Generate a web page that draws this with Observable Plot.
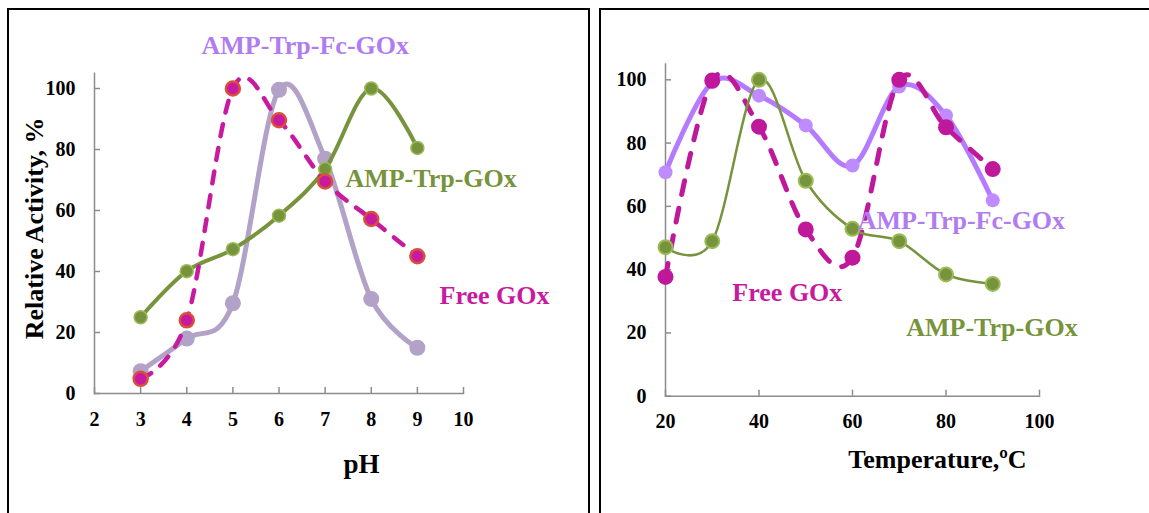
<!DOCTYPE html>
<html>
<head>
<meta charset="utf-8">
<script src="https://cdn.jsdelivr.net/npm/d3@7"></script>
<script src="https://cdn.jsdelivr.net/npm/@observablehq/plot@0.6"></script>
<style>
html, body { margin: 0; padding: 0; background: #fff; width: 1149px; height: 513px; overflow: hidden; }
#page { position: relative; width: 1149px; height: 513px; overflow: hidden; }
.box { position: absolute; border: 2px solid #000; box-sizing: border-box; }
#boxL { left: 7px; top: 8px; width: 583px; height: 600px; }
#boxR { left: 599px; top: 8px; width: 620px; height: 600px; }
#left, #right { position: absolute; top: 0; }
#left { left: 0; }
#right { left: 600px; }
#page svg { max-width: none; }
</style>
</head>
<body>
<div id="page">
  <div class="box" id="boxL"></div>
  <div class="box" id="boxR"></div>
  <div id="left"></div>
  <div id="right"></div>
</div>
<script>
// ---- Data ----
const pH = [3, 4, 5, 6, 7, 8, 9];
const phFree = [4.8, 24, 100, 89.6, 69.5, 57.2, 45];
const phFc = [7.3, 18, 29.6, 99.6, 77, 31, 15];
const phTrp = [25, 40.1, 47.3, 58.3, 73.6, 100, 80.5];

const temps = [20, 30, 40, 50, 60, 70, 80, 90];
const tFree = [37.7, 99.8, 85.2, 52.7, 43.8, 100, 85, 71.8];
const tFc = [70.8, 99.2, 95, 85.6, 72.9, 97.9, 88.7, 61.9];
const tTrp = [47.1, 49, 100, 68.1, 52.9, 49, 38.5, 35.5];

const phTicks = [2, 3, 4, 5, 6, 7, 8, 9, 10];
const tempTicks = [20, 40, 60, 80, 100];
const activityTicks = [0, 20, 40, 60, 80, 100];

const seriesNames = ["Free GOx", "AMP-Trp-Fc-GOx", "AMP-Trp-GOx"];
const yTitle = "Relative Activity, %";
const phTitle = "pH";
const tempTitle = "Temperature,\u00baC";

// ---- Tables built from the arrays ----
const phRows = pH.map((x, i) => ({x, free: phFree[i], fc: phFc[i], trp: phTrp[i]}));
const tRows = temps.map((x, i) => ({x, free: tFree[i], fc: tFc[i], trp: tTrp[i]}));

const FONT = "'Liberation Serif', 'Times New Roman', serif";
const AXIS = "#8c8c8c";
const MAG = "#c71a9f";
const GREEN = "#77933c";
const PURPLE_TXT = "#b07cf2";

function axes(xTicks) {
  return [
    Plot.frame({anchor: "left", stroke: AXIS, strokeWidth: 1.5}),
    Plot.frame({anchor: "bottom", stroke: AXIS, strokeWidth: 1.5}),
    Plot.axisX({ticks: xTicks, tickSize: -6, tickPadding: 24, stroke: AXIS, strokeWidth: 1.5,
      fill: "#000", fontSize: 20, fontWeight: "bold", label: null}),
    Plot.axisY({ticks: activityTicks, tickSize: -6, tickPadding: 25, stroke: AXIS, strokeWidth: 1.5,
      fill: "#000", fontSize: 20, fontWeight: "bold", label: null})
  ];
}

function label(text, x, y, fill, anchor = "start") {
  return Plot.text([text], {x, y, text: d => d, fill, fontSize: 26, fontWeight: "bold",
    textAnchor: anchor, lineAnchor: "middle"});
}

// ---- Left panel: pH ----
const left = Plot.plot({
  width: 590, height: 513,
  marginLeft: 94, marginRight: 127, marginTop: 72.75, marginBottom: 120,
  style: {background: "transparent", fontFamily: FONT, overflow: "visible"},
  x: {domain: [2, 10]},
  y: {domain: [0, 105]},
  marks: [
    ...axes(phTicks),
    Plot.line(phRows, {x: "x", y: "fc", curve: "cardinal", tension: 0, stroke: "#b3a2c7", strokeWidth: 5}),
    Plot.dot(phRows, {x: "x", y: "fc", r: 8, fill: "#b3a2c7"}),
    Plot.line(phRows, {x: "x", y: "trp", curve: "cardinal", tension: 0, stroke: GREEN, strokeWidth: 4}),
    Plot.dot(phRows, {x: "x", y: "trp", r: 6.5, fill: GREEN, stroke: "#9bbb59", strokeWidth: 1.5}),
    Plot.line(phRows, {x: "x", y: "free", curve: "cardinal", tension: 0, stroke: MAG, strokeWidth: 4.5,
      strokeDasharray: "12,12", strokeLinecap: "round"}),
    Plot.dot(phRows, {x: "x", y: "free", r: 7, fill: MAG, stroke: "#d8503c", strokeWidth: 2.5}),
    label(seriesNames[1], 6.57, 114, PURPLE_TXT, "middle"),
    label(seriesNames[2], 7.44, 70.5, GREEN),
    label(seriesNames[0], 9.48, 32.2, MAG),
    Plot.text([phTitle], {frameAnchor: "bottom", text: d => d, dx: 82.5, dy: 71, fontSize: 27, fontWeight: "bold", fill: "#000", textAnchor: "middle", lineAnchor: "middle"}),
    Plot.text([yTitle], {frameAnchor: "left", text: d => d, rotate: -90, dx: -60, dy: -5, fontSize: 26, fontWeight: "bold", fill: "#000", textAnchor: "middle", lineAnchor: "middle"})
  ]
});
document.getElementById("left").appendChild(left);

// ---- Right panel: Temperature ----
const right = Plot.plot({
  width: 549, height: 513,
  marginLeft: 65, marginRight: 110, marginTop: 63.5, marginBottom: 117.3,
  style: {background: "transparent", fontFamily: FONT, overflow: "visible"},
  x: {domain: [20, 100]},
  y: {domain: [0, 105]},
  marks: [
    ...axes(tempTicks),
    Plot.line(tRows, {x: "x", y: "fc", curve: "cardinal", tension: 0, stroke: "#b57bff", strokeWidth: 5}),
    Plot.dot(tRows, {x: "x", y: "fc", r: 7, fill: "#bf8cff"}),
    Plot.line(tRows, {x: "x", y: "free", curve: "cardinal", tension: 0, stroke: "#c0189b", strokeWidth: 5,
      strokeDasharray: "14,14", strokeLinecap: "round"}),
    Plot.dot(tRows, {x: "x", y: "free", r: 8, fill: "#c0189b"}),
    Plot.line(tRows, {x: "x", y: "trp", curve: "cardinal", tension: 0, stroke: GREEN, strokeWidth: 2.5}),
    Plot.dot(tRows, {x: "x", y: "trp", r: 7, fill: GREEN, stroke: "#9bbb59", strokeWidth: 2}),
    label(seriesNames[1], 61.1, 55.5, PURPLE_TXT),
    label(seriesNames[0], 34.3, 32.8, MAG),
    label(seriesNames[2], 71.5, 21.7, GREEN),
    Plot.text([tempTitle], {frameAnchor: "bottom", text: d => d, dx: 85, dy: 63, fontSize: 26, fontWeight: "bold", fill: "#000", textAnchor: "middle", lineAnchor: "middle"})
  ]
});
document.getElementById("right").appendChild(right);
</script>
</body>
</html>
